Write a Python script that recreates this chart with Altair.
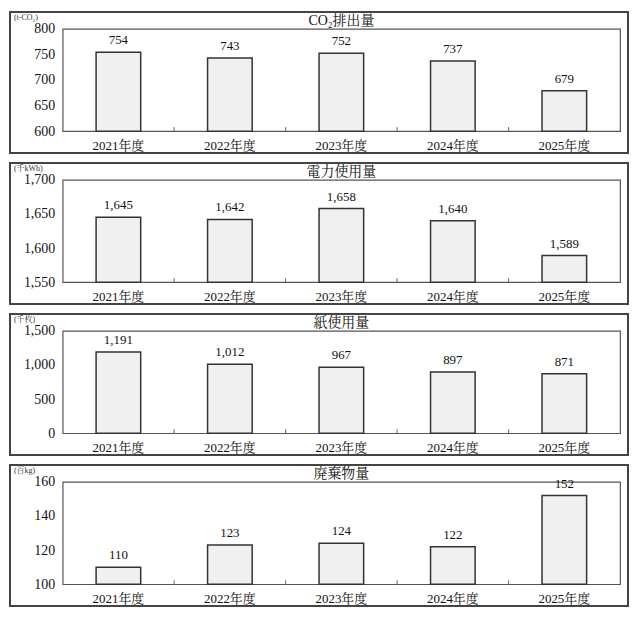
import altair as alt
import pandas as pd

years = ["2021年度", "2022年度", "2023年度", "2024年度", "2025年度"]
co2 = [754, 743, 752, 737, 679]
power = [1645, 1642, 1658, 1640, 1589]
paper = [1191, 1012, 967, 897, 871]
waste = [110, 123, 124, 122, 152]

titles = ["CO₂排出量", "電力使用量", "紙使用量", "廃棄物量"]
units = ["(t-CO₂)", "(千kWh)", "(千枚)", "(百kg)"]
domains = [[600, 800], [1550, 1700], [0, 1500], [100, 160]]
tick_vals = [[600, 650, 700, 750, 800], [1550, 1600, 1650, 1700],
             [0, 500, 1000, 1500], [100, 120, 140, 160]]

FONT = "Liberation Serif, Noto Serif CJK JP, Noto Sans CJK JP"
W, H = 561, 103
STROKE = "#444444"


def panel(title, unit, values, dom, ticks):
    df = pd.DataFrame({"year": years, "v": values,
                       "lab": [f"{x:,}" for x in values]})
    xs = alt.X("year:N", sort=years, title=None,
               scale=alt.Scale(paddingInner=0.6, paddingOuter=0.3),
               axis=alt.Axis(ticks=False, domain=False, labelAngle=0,
                             labelPadding=8, labelFontSize=13,
                             labelFont=FONT, labelColor="#111"))
    ys = alt.Y("v:Q", title=None,
               scale=alt.Scale(domain=dom, zero=False, nice=False),
               axis=alt.Axis(values=ticks, format=",.0f", grid=False,
                             ticks=False, domain=False, labelPadding=8,
                             labelOverlap=False,
                             labelFontSize=14, labelFont=FONT,
                             labelColor="#111"))
    base = alt.Chart(df)
    box = base.mark_rect(fillOpacity=0, stroke=STROKE, strokeWidth=1.5).encode(
        x=alt.value(-53), x2=alt.value(W + 8), y=alt.value(-17), y2=alt.value(H + 22))
    bars = base.mark_bar(fill="#f0f0f0", stroke="#333333", strokeWidth=1.5).encode(
        x=xs, y=ys, y2=alt.datum(dom[0]))
    labels = base.mark_text(baseline="bottom", dy=-5, fontSize=13, font=FONT,
                            color="#111").encode(x=xs, y=ys, text="lab:N")
    tdf = pd.DataFrame({"year": years[1:]})
    tks = alt.Chart(tdf).mark_rule(xOffset=-W / 10, color="#666", strokeWidth=1).encode(
        x=xs, y=alt.value(H), y2=alt.value(H - 4))
    ttl = alt.Chart(pd.DataFrame({"t": [title]})).mark_text(
        fontSize=14, font=FONT, color="#111", baseline="middle").encode(
        text="t:N", x=alt.value(W / 2), y=alt.value(-8))
    un = alt.Chart(pd.DataFrame({"t": [unit]})).mark_text(
        fontSize=8, font=FONT, color="#333", align="left", baseline="middle").encode(
        text="t:N", x=alt.value(-49), y=alt.value(-11))
    return alt.layer(box, bars, labels, tks, ttl, un).properties(width=W, height=H)


data = [co2, power, paper, waste]
panels = [panel(titles[i], units[i], data[i], domains[i], tick_vals[i]) for i in range(4)]

chart = alt.vconcat(*panels, spacing=6).configure(padding=0).configure_view(
    stroke="#555555", strokeWidth=1.2)

chart.save("out.html", embed_options={"renderer": "svg", "actions": False})
